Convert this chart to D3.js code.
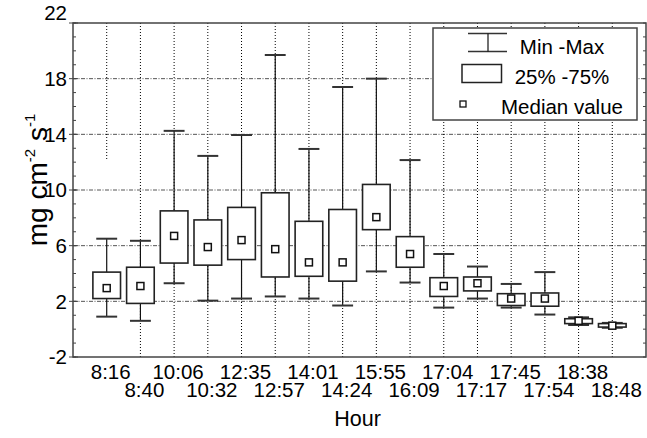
<!DOCTYPE html>
<html>
<head>
<meta charset="utf-8">
<script src="https://cdn.jsdelivr.net/npm/d3@7"></script>
<style>
  body { margin: 0; background: #fff; }
  text { font-family: "Liberation Sans", Arial, sans-serif; fill: #000; }
</style>
</head>
<body>
<svg id="chart"></svg>
<script>
// Box plot data
const hours = ["8:16", "8:40", "10:06", "10:32", "12:35", "12:57", "14:01", "14:24",
               "15:55", "16:09", "17:04", "17:17", "17:45", "17:54", "18:38", "18:48"];
const minV = [0.9, 0.6, 3.3, 2.05, 2.2, 2.35, 2.2, 1.7, 4.15, 3.35, 1.55, 2.2, 1.55, 1.05, 0.3, 0.1];
const q1V  = [2.2, 1.85, 4.75, 4.6, 5.0, 3.75, 3.8, 3.45, 7.15, 4.45, 2.35, 2.75, 1.7, 1.65, 0.4, 0.15];
const medV = [2.95, 3.1, 6.7, 5.9, 6.4, 5.75, 4.8, 4.8, 8.05, 5.4, 3.1, 3.3, 2.2, 2.2, 0.6, 0.25];
const q3V  = [4.1, 4.45, 8.5, 7.85, 8.75, 9.8, 7.75, 8.6, 10.4, 6.65, 3.7, 3.75, 2.55, 2.6, 0.75, 0.4];
const maxV = [6.5, 6.35, 14.25, 12.45, 13.95, 19.7, 12.95, 17.4, 18, 12.15, 5.4, 4.5, 3.25, 4.1, 0.85, 0.45];
const yTicks = [-2, 2, 6, 10, 14, 18, 22];

const width = 647, height = 438;
const margin = { top: 23, right: 1, bottom: 81, left: 73 };

const svg = d3.select("#chart")
    .attr("width", width)
    .attr("height", height);

const x = d3.scaleLinear()
    .domain([-1, hours.length])
    .range([margin.left, width - margin.right]);
const y = d3.scaleLinear()
    .domain([-2, 22])
    .range([height - margin.bottom, margin.top]);

const boxW = 0.82, capW = 0.62, medS = 7;
const bw = x(boxW) - x(0), cw = x(capW) - x(0);

// grid
const grid = svg.append("g");
grid.selectAll("line.h")
    .data(yTicks.slice(1, -1))
    .enter().append("line")
    .attr("x1", x(-1)).attr("x2", x(hours.length))
    .attr("y1", d => y(d)).attr("y2", d => y(d))
    .attr("stroke", "#555").attr("stroke-width", 1)
    .attr("stroke-dasharray", "4,1.5,1,1.5");
grid.selectAll("line.v")
    .data(hours)
    .enter().append("line")
    .attr("x1", (d, i) => x(i)).attr("x2", (d, i) => x(i))
    .attr("y1", y(22))
    .attr("y2", (d, i) => i === 0 ? y(12.2) : y(-2))
    .attr("stroke", "#000").attr("stroke-width", 1)
    .attr("stroke-dasharray", "1,2");

// minor / major ticks
const axisG = svg.append("g").attr("stroke", "#444");
axisG.selectAll("line.minor")
    .data(d3.range(-2, 23))
    .enter().append("line")
    .attr("x1", x(-1)).attr("x2", x(-1) + 3)
    .attr("y1", d => y(d)).attr("y2", d => y(d))
    .attr("stroke-width", 1);
axisG.selectAll("line.minorR")
    .data(d3.range(-2, 23))
    .enter().append("line")
    .attr("x1", x(hours.length) - 3).attr("x2", x(hours.length))
    .attr("y1", d => y(d)).attr("y2", d => y(d))
    .attr("stroke-width", 1);
axisG.selectAll("line.major")
    .data(yTicks)
    .enter().append("line")
    .attr("x1", x(-1) - 4).attr("x2", x(-1) + 5)
    .attr("y1", d => y(d)).attr("y2", d => y(d))
    .attr("stroke-width", 1);

// whiskers
const boxes = svg.append("g").selectAll("g")
    .data(hours)
    .enter().append("g");
boxes.append("line")
    .attr("x1", (d, i) => x(i)).attr("x2", (d, i) => x(i))
    .attr("y1", (d, i) => y(minV[i])).attr("y2", (d, i) => y(maxV[i]))
    .attr("stroke", "#111").attr("stroke-width", 1.2);
boxes.append("line")
    .attr("x1", (d, i) => x(i) - cw / 2).attr("x2", (d, i) => x(i) + cw / 2)
    .attr("y1", (d, i) => y(maxV[i])).attr("y2", (d, i) => y(maxV[i]))
    .attr("stroke", "#333").attr("stroke-width", 2);
boxes.append("line")
    .attr("x1", (d, i) => x(i) - cw / 2).attr("x2", (d, i) => x(i) + cw / 2)
    .attr("y1", (d, i) => y(minV[i])).attr("y2", (d, i) => y(minV[i]))
    .attr("stroke", "#333").attr("stroke-width", 2);
boxes.append("rect")
    .attr("x", (d, i) => x(i) - bw / 2)
    .attr("width", bw)
    .attr("y", (d, i) => y(q3V[i]))
    .attr("height", (d, i) => y(q1V[i]) - y(q3V[i]))
    .attr("fill", "#fff").attr("stroke", "#222").attr("stroke-width", 1.6);
boxes.append("rect")
    .attr("x", (d, i) => x(i) - medS / 2)
    .attr("y", (d, i) => y(medV[i]) - medS / 2)
    .attr("width", medS).attr("height", medS)
    .attr("fill", "#fff").attr("stroke", "#111").attr("stroke-width", 1.5);

// frame
svg.append("rect")
    .attr("x", x(-1)).attr("y", y(22))
    .attr("width", x(hours.length) - x(-1))
    .attr("height", y(-2) - y(22))
    .attr("fill", "none").attr("stroke", "#444").attr("stroke-width", 1.5);

// y tick labels
svg.append("g").selectAll("text")
    .data(yTicks)
    .enter().append("text")
    .attr("x", x(-1) - 6)
    .attr("y", d => y(d))
    .attr("dy", d => d === 22 ? "-0.15em" : "0.35em")
    .attr("text-anchor", "end")
    .attr("font-size", 20.5)
    .text(d => d);

// x tick labels, staggered on two rows
svg.append("g").selectAll("text")
    .data(hours)
    .enter().append("text")
    .attr("x", (d, i) => x(i) + 4)
    .attr("y", (d, i) => y(-2) + (i % 2 === 0 ? 22 : 40))
    .attr("text-anchor", "middle")
    .attr("font-size", 20.5)
    .text(d => d);

// axis titles
svg.append("text")
    .attr("x", (x(-1) + x(hours.length)) / 2 - 2)
    .attr("y", 426)
    .attr("text-anchor", "middle")
    .attr("font-size", 21.5)
    .text("Hour");

const yTitle = svg.append("text")
    .attr("transform", `translate(47, 180) rotate(-90)`)
    .attr("text-anchor", "middle")
    .attr("font-size", 28);
yTitle.append("tspan").text("mg cm");
yTitle.append("tspan").attr("font-size", 15).attr("dy", -12).text("-2");
yTitle.append("tspan").attr("dy", 12).text(" s");
yTitle.append("tspan").attr("font-size", 15).attr("dy", -12).text("-1");

// legend
const lg = svg.append("g");
lg.append("rect")
    .attr("x", 433).attr("y", 28)
    .attr("width", 204).attr("height", 92)
    .attr("fill", "#fff").attr("stroke", "#444").attr("stroke-width", 1.5);
lg.append("line").attr("x1", 468).attr("x2", 507).attr("y1", 33.5).attr("y2", 33.5)
    .attr("stroke", "#333").attr("stroke-width", 1.5);
lg.append("line").attr("x1", 468).attr("x2", 507).attr("y1", 51.5).attr("y2", 51.5)
    .attr("stroke", "#333").attr("stroke-width", 1.5);
lg.append("line").attr("x1", 488).attr("x2", 488).attr("y1", 33.5).attr("y2", 51.5)
    .attr("stroke", "#111").attr("stroke-width", 1.2);
lg.append("rect").attr("x", 462).attr("y", 64.5).attr("width", 39.5).attr("height", 18)
    .attr("fill", "#fff").attr("stroke", "#222").attr("stroke-width", 1.5);
lg.append("rect").attr("x", 460).attr("y", 101).attr("width", 6).attr("height", 6)
    .attr("fill", "#fff").attr("stroke", "#111").attr("stroke-width", 1.3);
const legendText = ["Min -Max", "25% -75%", "Median value"];
lg.selectAll("text")
    .data(legendText)
    .enter().append("text")
    .attr("x", 562)
    .attr("y", (d, i) => 53.5 + i * 30)
    .attr("text-anchor", "middle")
    .attr("font-size", 20.5)
    .text(d => d);
</script>
</body>
</html>
